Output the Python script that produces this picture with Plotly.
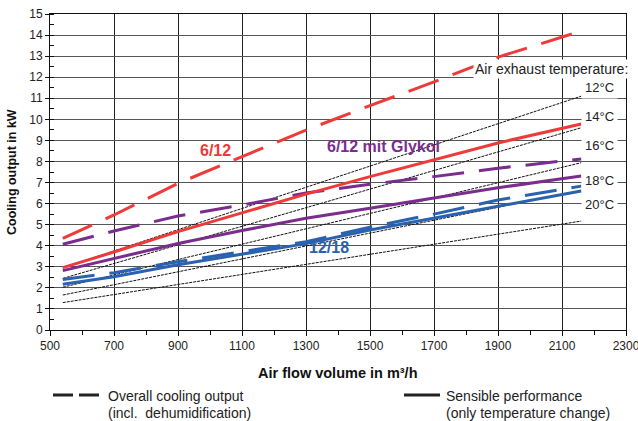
import plotly.graph_objects as go

# air flow volume (m³/h) where the curves were read
airflow = [540, 700, 900, 1100, 1300, 1500, 1700, 1900, 2160]

# 6/12 water, overall (dashed) and sensible (solid)
red_total = [4.35, 5.46, 6.96, 8.23, 9.49, 10.65, 11.78, 12.95, 14.19]
red_sensible = [2.96, 3.70, 4.67, 5.57, 6.45, 7.28, 8.08, 8.88, 9.78]

# 6/12 mit Glykol
purple_total = [4.07, 4.70, 5.41, 5.93, 6.50, 6.92, 7.28, 7.68, 8.12]
purple_sensible = [2.82, 3.40, 4.11, 4.72, 5.30, 5.78, 6.25, 6.75, 7.31]

# 12/18
blue_total = [2.40, 2.72, 3.24, 3.72, 4.19, 4.88, 5.50, 6.17, 6.83]
blue_sensible = [2.17, 2.53, 3.10, 3.60, 4.10, 4.75, 5.30, 5.85, 6.60]

# air exhaust temperature lines (start / end)
temp_x = [540, 2160]
temp_labels = ["12°C", "14°C", "16°C", "18°C", "20°C"]
temp_lines = [[2.95, 11.10], [2.45, 9.60], [2.03, 7.94], [1.66, 6.62], [1.30, 5.17]]
temp_label_y = [11.5, 10.12, 8.76, 7.1, 5.94]

RED = "#EE3A39"
PURPLE = "#7B2D8E"
BLUE = "#2B62AF"
DASH = "32px,15px"
FONT = "Liberation Sans, Arial, sans-serif"

fig = go.Figure()

for ys in temp_lines:
    fig.add_trace(go.Scatter(x=temp_x, y=ys, mode="lines",
                             line=dict(color="#111", width=1, dash="3px,1px"),
                             showlegend=False, hoverinfo="skip"))

for ys, color, dash in [
    (blue_sensible, BLUE, "solid"), (blue_total, BLUE, DASH),
    (purple_sensible, PURPLE, "solid"), (purple_total, PURPLE, DASH),
    (red_sensible, RED, "solid"), (red_total, RED, DASH),
]:
    fig.add_trace(go.Scatter(x=airflow, y=ys, mode="lines",
                             line=dict(color=color, width=3, dash=dash),
                             showlegend=False))

annotations = []
for label, y in zip(temp_labels, temp_label_y):
    annotations.append(dict(x=2216, y=y, xref="x", yref="y", text=label, showarrow=False,
                            font=dict(size=13, color="#222"), bgcolor="white", borderpad=3))
annotations.append(dict(x=1822, y=12.4, xref="x", yref="y", text="Air exhaust temperature:",
                        showarrow=False, xanchor="left", font=dict(size=14, color="#222"),
                        bgcolor="white", borderpad=1))

for text, x, y, color in [("6/12", 1016, 8.5, RED), ("6/12 mit Glykol", 1541, 8.7, PURPLE),
                          ("12/18", 1372, 3.9, BLUE)]:
    annotations.append(dict(x=x, y=y, xref="x", yref="y", text=f"<b>{text}</b>", showarrow=False,
                            font=dict(size=16, color=color)))


def px_x(p):
    return (p - 50) / 576


def px_y(p):
    return (330 - p) / 316


# legend below the plot and axis titles
for text, x, y in [("Overall cooling output", 106, 396), ("(incl.  dehumidification)", 106, 413),
                   ("Sensible performance", 444, 396), ("(only temperature change)", 444, 413)]:
    annotations.append(dict(x=px_x(x), y=px_y(y), xref="paper", yref="paper", xanchor="left",
                            yanchor="middle", text=text, showarrow=False, font=dict(size=14, color="#222")))
annotations += [
    dict(x=px_x(12), y=0.5, xref="paper", yref="paper", xanchor="center", yanchor="middle",
         text="<b>Cooling output in kW</b>", textangle=-90, showarrow=False,
         font=dict(size=12.5, color="#111")),
    dict(x=0.5, y=px_y(373), xref="paper", yref="paper", xanchor="center", yanchor="middle",
         text="<b>Air flow volume in m³/h</b>", showarrow=False, font=dict(size=14.5, color="#111")),
]

shapes = []
for x0, x1 in [(53, 73), (79, 99), (404, 440)]:
    shapes.append(dict(type="line", xref="paper", yref="paper", x0=px_x(x0), x1=px_x(x1),
                       y0=px_y(395), y1=px_y(395), line=dict(color="#222", width=3)))

fig.update_layout(
    width=638, height=421,
    margin=dict(l=50, r=12, t=14, b=91),
    paper_bgcolor="white", plot_bgcolor="white",
    font=dict(family=FONT, size=12, color="#222"),
    annotations=annotations, shapes=shapes,
    xaxis=dict(range=[500, 2300], tick0=500, dtick=200, showgrid=True, gridcolor="#222", gridwidth=1,
               showline=True, linecolor="#111", linewidth=1, mirror=True, zeroline=False,
               ticks="outside", ticklen=5, tickcolor="#111", ticklabeloverflow="allow",
               automargin=False,
               minor=dict(dtick=100, tick0=500, ticks="outside", ticklen=4, tickcolor="#111", showgrid=False)),
    yaxis=dict(range=[0, 15], tick0=0, dtick=1, showgrid=True, gridcolor="#555", gridwidth=1.3,
               showline=True, linecolor="#111", linewidth=1, mirror=True, zeroline=False,
               ticks="outside", ticklen=4, tickcolor="#111", automargin=False,
               minor=dict(dtick=0.5, ticks="inside", ticklen=4, tickcolor="#111", showgrid=False)),
)

fig.write_html("out.html", config={"displayModeBar": False},
               post_script="document.body.style.margin='0';")
